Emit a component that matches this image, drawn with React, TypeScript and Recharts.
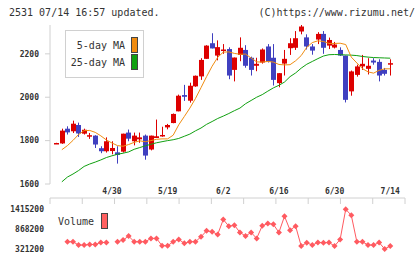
import React from "react";
import { ComposedChart, Bar, Line, XAxis, YAxis } from "recharts";

// daily candles, oldest first
const opens = [
  1789, 1787, 1855, 1843, 1872, 1832, 1820, 1823, 1765, 1751,
  1752, 1746, 1749, 1837, 1797, 1806, 1823, 1759, 1812, 1820,
  1861, 1881, 1935, 2010, 1984, 2050, 2096, 2177, 2249, 2192,
  2214, 2222, 2126, 2195, 2218, 2182, 2145, 2160, 2234, 2182,
  2065, 2155, 2226, 2228, 2303, 2276, 2234, 2266, 2292, 2238,
  2229, 2218, 2192, 2027, 2103, 2142, 2131, 2169, 2163, 2126,
  2153,
];
const highs = [
  1790, 1855, 1866, 1892, 1883, 1855, 1835, 1825, 1774, 1815,
  1797, 1774, 1832, 1851, 1837, 1837, 1828, 1823, 1897, 1864,
  1877, 1925, 2012, 2057, 2067, 2100, 2180, 2240, 2295, 2262,
  2245, 2230, 2183, 2276, 2240, 2187, 2182, 2225, 2245, 2245,
  2111, 2218, 2272, 2305, 2334, 2290, 2245, 2300, 2305, 2275,
  2255, 2230, 2192, 2123, 2150, 2195, 2180, 2180, 2175, 2135,
  2175,
];
const lows = [
  1788, 1785, 1828, 1835, 1817, 1828, 1808, 1766, 1742, 1745,
  1737, 1694, 1745, 1797, 1778, 1790, 1712, 1755, 1812, 1818,
  1852, 1880, 1935, 1983, 1975, 2048, 2080, 2177, 2225, 2170,
  2200, 2083, 2073, 2166, 2136, 2100, 2120, 2155, 2160, 2054,
  2046, 2100, 2195, 2218, 2290, 2220, 2196, 2245, 2200, 2222,
  2225, 2190, 1976, 2007, 2095, 2126, 2105, 2150, 2073, 2100,
  2100,
];
const closes = [
  1789, 1846, 1838, 1878, 1833, 1850, 1825, 1782, 1751, 1797,
  1766, 1734, 1832, 1809, 1823, 1815, 1731, 1823, 1820, 1826,
  1872, 1923, 2007, 2002, 2053, 2099, 2172, 2238, 2225, 2231,
  2220, 2100, 2183, 2228, 2145, 2126, 2154, 2220, 2165, 2080,
  2111, 2177, 2249, 2272, 2326, 2234, 2215, 2292, 2228, 2264,
  2243, 2192, 1988, 2119, 2142, 2154, 2145, 2160, 2100, 2108,
  2157,
];
const ma5 = [
  null, 1758, 1777, 1801, 1828, 1846, 1847, 1838, 1822, 1803,
  1789, 1777, 1774, 1782, 1792, 1799, 1795, 1800, 1806, 1808,
  1808, 1825, 1873, 1911, 1950, 1994, 2044, 2095, 2143, 2184,
  2208, 2209, 2202, 2198, 2199, 2181, 2163, 2162, 2165, 2162,
  2151, 2149, 2150, 2168, 2192, 2230, 2252, 2260, 2257, 2248,
  2248, 2249, 2243, 2185, 2158, 2132, 2117, 2111, 2124, 2131,
  2131,
];
const ma25 = [
  null, 1610, 1632, 1646, 1662, 1681, 1692, 1701, 1711, 1722,
  1730, 1737, 1742, 1748, 1760, 1768, 1776, 1783, 1790, 1795,
  1800, 1804, 1810, 1820, 1830, 1845, 1858, 1875, 1888, 1902,
  1913, 1925, 1938, 1950, 1970, 1985, 2000, 2012, 2028, 2043,
  2055, 2070, 2095, 2112, 2134, 2152, 2165, 2178, 2190, 2196,
  2197, 2196, 2195, 2194, 2192, 2188, 2185, 2183, 2182, 2181,
  2180,
];
const volumes = [
  null, null, 521000, 521000, 430000, 430000, 445000, 445000, 500000, 500000,
  null, 521000, 567000, 677000, 521000, 521000, 521000, 614000, 614000, 412000,
  412000, 521000, 586000, 477000, 521000, 521000, 658000, 822000, 795000, 723000,
  1133000, 950000, 977000, 778000, 677000, 778000, 614000, 960000, 1024000, 1000000,
  778000, 1224000, 841000, 950000, 403000, 493000, 430000, 500000, 493000, 500000,
  403000, 586000, 1415200, 1251000, 521000, 521000, 430000, 430000, 500000, 321000,
  403000,
];
const dateTicks = [10, 20, 30, 40, 50, 60];
const dateLabels = ["4/30", "5/19", "6/2", "6/16", "6/30", "7/14"];
const priceTicks = [1600, 1800, 2000, 2200];
const volumeTicks = [321200, 868200, 1415200];

const UP = "#dd0000";
const DOWN = "#4040c0";
const VOL = "#ff5a60";
const AXIS = "#d0d0d0";
const MONO = "'DejaVu Sans Mono', monospace";

const X_DOMAIN: [number, number] = [-1.13, 62.65];
const gridTicks = Array.from({ length: 12 }, (_, k) => X_DOMAIN[0] + (k * (X_DOMAIN[1] - X_DOMAIN[0])) / 11);

const data = opens.map((o, i) => ({
  i,
  range: [lows[i], highs[i]],
  open: o,
  close: closes[i],
  high: highs[i],
  low: lows[i],
  ma5: ma5[i],
  ma25: ma25[i],
  volume: volumes[i],
}));

const Candle = (props: any) => {
  const { x, y, width, height, payload } = props;
  if (x == null || y == null) return null;
  const { open, close, high, low } = payload;
  const color = close >= open ? UP : DOWN;
  const cx = Math.round(x + width / 2) + 0.5;
  const span = high - low;
  const py = (v: number) => (span === 0 ? y : y + ((high - v) / span) * height);
  const top = py(Math.max(open, close));
  const bot = py(Math.min(open, close));
  return (
    <g>
      <line x1={cx} x2={cx} y1={y} y2={y + height} stroke={color} strokeWidth={1} />
      <rect x={cx - 2.5} y={top} width={5} height={Math.max(1.5, bot - top)} fill={color} />
    </g>
  );
};

const Diamond = (props: any) => {
  const { cx, cy, payload } = props;
  if (cx == null || cy == null || payload.volume == null) return null;
  const r = 3;
  return (
    <polygon
      points={`${cx},${cy - r} ${cx + r},${cy} ${cx},${cy + r} ${cx - r},${cy}`}
      fill={VOL}
    />
  );
};

const tickStyle = { fontFamily: MONO, fontSize: 8, fontWeight: 700, fill: "#333" };

export default function App() {
  return (
    <div style={{ position: "absolute", left: 0, top: 0, width: 420, height: 259, background: "#fff", fontFamily: MONO, color: "#333" }}>
      <div style={{ position: "absolute", left: 9, top: 7, fontSize: 10, lineHeight: "12px" }}>2531 07/14 16:57 updated.</div>
      <div style={{ position: "absolute", right: 5, top: 7, fontSize: 10, lineHeight: "12px" }}>(C)https://www.rizumu.net/</div>

      <div style={{ position: "absolute", left: 0, top: 0 }}>
        <ComposedChart width={420} height={205} data={data} margin={{ top: 25, right: 15, bottom: 1, left: 0 }}>
          <XAxis
            xAxisId="t"
            type="number"
            dataKey="i"
            domain={X_DOMAIN}
            allowDataOverflow
            ticks={gridTicks}
            tickFormatter={() => ""}
            tickSize={6}
            height={6}
            stroke={AXIS}
            axisLine={{ stroke: AXIS }}
            tickLine={{ stroke: AXIS }}
          />
          <XAxis
            xAxisId="lbl"
            type="number"
            dataKey="i"
            domain={X_DOMAIN}
            allowDataOverflow
            ticks={dateTicks}
            tickFormatter={(v: number) => dateLabels[dateTicks.indexOf(v)] ?? ""}
            axisLine={false}
            tickLine={false}
            tickSize={0}
            tickMargin={4}
            height={14}
            tick={tickStyle}
          />
          <YAxis
            type="number"
            domain={[1600, 2333]}
            allowDataOverflow
            ticks={priceTicks}
            width={50}
            tickSize={5}
            tickMargin={6}
            axisLine={{ stroke: AXIS }}
            tickLine={{ stroke: AXIS }}
            tick={tickStyle}
          />
          <Bar xAxisId="t" dataKey="range" barSize={5} shape={Candle} isAnimationActive={false} />
          <Line xAxisId="t" type="linear" dataKey="ma25" stroke="#10a010" strokeWidth={1} dot={false} isAnimationActive={false} />
          <Line xAxisId="t" type="linear" dataKey="ma5" stroke="#f08c10" strokeWidth={1} dot={false} isAnimationActive={false} />
        </ComposedChart>
      </div>

      <div style={{ position: "absolute", left: 65, top: 30, width: 77, height: 46, border: "1px solid #d0d0d0", background: "#fff" }} />
      <div style={{ position: "absolute", left: 60, width: 65, top: 40, fontSize: 10, lineHeight: "12px", textAlign: "right" }}>5-day MA</div>
      <div style={{ position: "absolute", left: 60, width: 65, top: 57, fontSize: 10, lineHeight: "12px", textAlign: "right" }}>25-day MA</div>
      <div style={{ position: "absolute", left: 131, top: 37, width: 5, height: 14, background: "#f08c10", border: "1px solid #444" }} />
      <div style={{ position: "absolute", left: 131, top: 54, width: 5, height: 14, background: "#10a010", border: "1px solid #444" }} />

      <div style={{ position: "absolute", left: 0, top: 200 }}>
        <ComposedChart width={420} height={59} data={data} margin={{ top: 5, right: 15, bottom: 6, left: 0 }}>
          <XAxis type="number" dataKey="i" domain={X_DOMAIN} allowDataOverflow hide />
          <YAxis
            type="number"
            domain={[211000, 1533700]}
            allowDataOverflow
            ticks={volumeTicks}
            width={50}
            tickSize={0}
            tickMargin={6}
            axisLine={false}
            tickLine={false}
            tick={tickStyle}
          />
          <Line type="linear" dataKey="volume" stroke={VOL} strokeWidth={1} dot={Diamond} isAnimationActive={false} />
        </ComposedChart>
      </div>
      <div style={{ position: "absolute", left: 58, top: 216, fontSize: 10, lineHeight: "12px" }}>Volume</div>
      <div style={{ position: "absolute", left: 101, top: 213, width: 5, height: 14, background: "#ff6060", border: "1px solid #444" }} />
    </div>
  );
}
